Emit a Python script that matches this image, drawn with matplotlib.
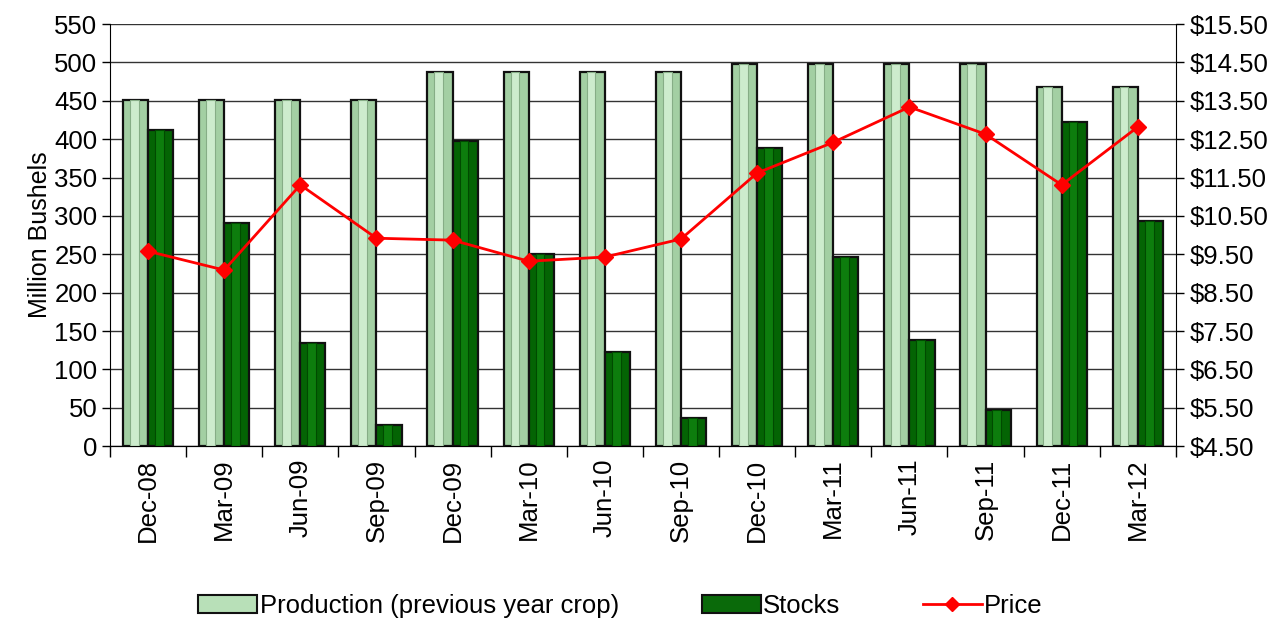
import numpy as np
import matplotlib.pyplot as plt
from matplotlib.lines import Line2D
from matplotlib.patches import Patch

plt.rcParams['font.family'] = ['Liberation Sans', 'DejaVu Sans']

months = ['Dec-08', 'Mar-09', 'Jun-09', 'Sep-09', 'Dec-09', 'Mar-10', 'Jun-10',
          'Sep-10', 'Dec-10', 'Mar-11', 'Jun-11', 'Sep-11', 'Dec-11', 'Mar-12']
production = [451, 451, 451, 451, 488, 488, 488, 488, 498, 498, 498, 498, 468, 468]
stocks = [412, 291, 134, 28, 398, 251, 123, 37, 388, 246, 139, 47, 423, 294]
price = [9.58, 9.09, 11.31, 9.92, 9.87, 9.32, 9.43, 9.90, 11.62, 12.42, 13.34, 12.63, 11.31, 12.82]

x = np.arange(len(months))
w = 0.33

fig = plt.figure(figsize=(12.85, 6.18), dpi=100)
ax = fig.add_axes([0.0856, 0.278, 0.8295, 0.683])

# bars with a simple bevel look
ax.bar(x - w / 2, production, w, color='#a3cfa3', edgecolor='#111111', linewidth=1.6, zorder=3)
ax.bar(x - w / 2 - w * 0.05, production, w * 0.35, color='#cdeccd', edgecolor='#86ad86', linewidth=0.8, zorder=4)
ax.bar(x + w / 2, stocks, w, color='#046404', edgecolor='#111111', linewidth=1.6, zorder=3)
ax.bar(x + w / 2 - w * 0.05, stocks, w * 0.35, color='#0d7d0d', edgecolor='#004a00', linewidth=0.8, zorder=4)

ax.set_xlim(-0.5, len(months) - 0.5)
ax.set_ylim(0, 550)
ax.set_yticks(range(0, 551, 50))
ax.set_ylabel('Million Bushels', fontsize=18, labelpad=2)
ax.grid(axis='y', color='#333333', linewidth=1, zorder=0)
ax.set_xticks(x)
ax.set_xticklabels(months, rotation=90, fontsize=18.5)
ax.set_xticks(np.arange(-0.5, len(months)), minor=True)
ax.tick_params(axis='x', which='major', length=0, pad=9)
ax.tick_params(axis='x', which='minor', length=8, direction='out', width=1)
ax.tick_params(axis='y', labelsize=18.5, length=6, width=1, direction='out', pad=3)
ax.spines['top'].set_visible(False)
ax.spines['right'].set_visible(False)

ax2 = ax.twinx()
ax2.plot(x, price, color='#ff0000', linewidth=2, marker='D', markersize=8, zorder=5)
ax2.set_ylim(4.5, 15.5)
ax2.set_yticks(np.arange(4.5, 15.51, 1.0))
ax2.set_yticklabels(['${:.2f}'.format(v) for v in np.arange(4.5, 15.51, 1.0)])
ax2.tick_params(axis='y', labelsize=18.5, length=6, width=1, direction='out', pad=4)
ax2.spines['top'].set_visible(False)
ax2.spines['left'].set_visible(False)

handles = [
    Patch(facecolor='#b8e0b8', edgecolor='#111111', linewidth=1.5),
    Patch(facecolor='#0a6a0a', edgecolor='#111111', linewidth=1.5),
    Line2D([0], [0], color='#ff0000', linewidth=2, marker='D', markersize=7),
]
labels = ['Production (previous year crop)', 'Stocks', 'Price']
fig.legend(handles, labels, loc='lower center', bbox_to_anchor=(0.483, -0.037), ncol=3,
           frameon=False, fontsize=18.5, handlelength=2.3, handletextpad=0.1,
           columnspacing=3.2)

fig.savefig('out.png', dpi=100)
